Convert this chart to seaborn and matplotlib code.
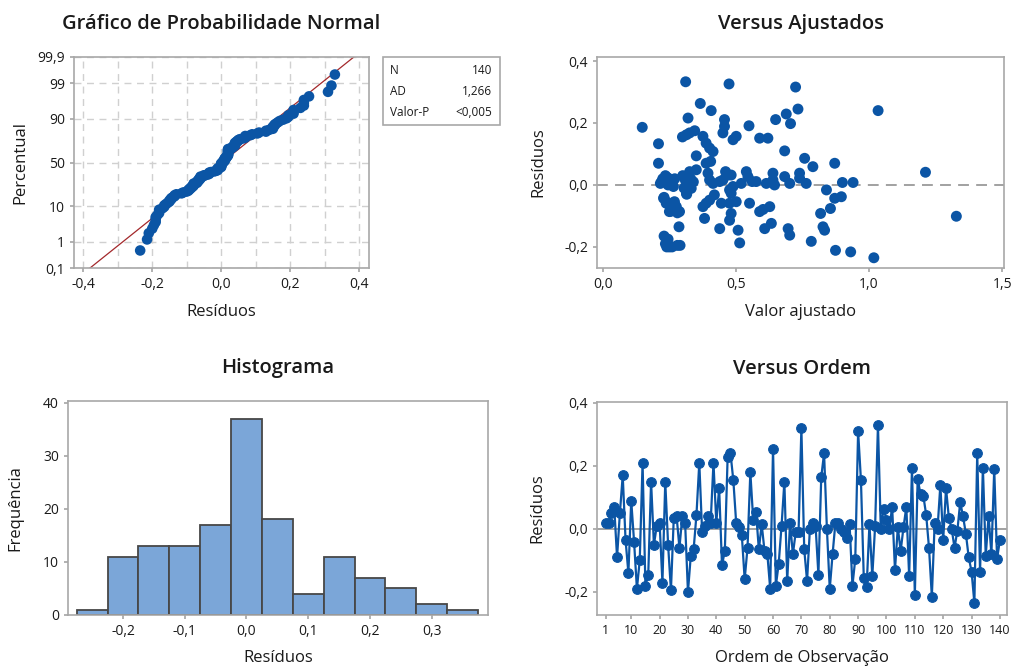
import numpy as np
import pandas as pd
import matplotlib
matplotlib.use("Agg")
import matplotlib.pyplot as plt
import seaborn as sns
from matplotlib.ticker import FuncFormatter, FixedLocator
from statistics import NormalDist

# residuals in observation order
residuals = [
    0.018, 0.02, 0.05, 0.07, -0.09, 0.05, 0.17, -0.035, -0.14, 0.09,
    -0.04, -0.19, -0.10, 0.21, -0.18, -0.145, 0.15, -0.05, 0.01, 0.02,
    -0.17, 0.15, -0.05, -0.195, 0.035, 0.04, -0.06, 0.04, 0.02, -0.20,
    -0.085, -0.065, 0.045, 0.21, -0.01, 0.01, 0.04, 0.02, 0.21, 0.02,
    0.13, -0.115, -0.07, 0.23, 0.24, 0.155, 0.02, 0.005, -0.02, -0.16,
    -0.06, 0.18, 0.03, 0.055, -0.065, 0.015, -0.07, -0.08, -0.19, 0.255,
    -0.18, -0.11, 0.01, 0.15, -0.165, 0.02, -0.08, -0.01, -0.01, 0.32,
    -0.065, -0.165, 0.0, 0.02, 0.01, -0.145, 0.165, 0.24, 0.0, -0.19,
    -0.08, 0.02, 0.02, 0.0, -0.01, -0.03, 0.015, -0.18, -0.095, 0.31,
    0.155, -0.155, -0.185, 0.015, -0.15, 0.01, 0.33, 0.0, 0.065, 0.03,
    0.0, 0.07, -0.13, 0.005, -0.07, 0.005, 0.07, -0.15, 0.195, -0.21,
    0.16, 0.11, 0.105, 0.045, -0.06, -0.215, 0.02, 0.0, 0.14, -0.035,
    0.13, 0.035, 0.0, -0.06, -0.005, 0.085, 0.04, -0.015, -0.09, -0.135,
    -0.235, 0.24, -0.135, 0.195, -0.085, 0.04, -0.08, 0.19, -0.095, -0.035,
]

# points of the "Versus Ajustados" panel (fitted value, residual)
fitted_x = [
    0.148, 0.209, 0.209, 0.216, 0.228, 0.225, 0.24, 0.25, 0.26, 0.27,
    0.245, 0.265, 0.23, 0.24, 0.265, 0.255, 0.28, 0.27, 0.238, 0.25,
    0.269, 0.276, 0.288, 0.286, 0.23, 0.235, 0.24, 0.25, 0.26, 0.28,
    0.29, 0.245, 0.311, 0.320, 0.299, 0.314, 0.326, 0.345, 0.326, 0.314,
    0.314, 0.332, 0.351, 0.351, 0.366, 0.376, 0.388, 0.401, 0.414, 0.407,
    0.388, 0.405, 0.395, 0.401, 0.414, 0.376, 0.388, 0.401, 0.382, 0.419,
    0.439, 0.451, 0.457, 0.457, 0.451, 0.474, 0.461, 0.470, 0.482, 0.476,
    0.482, 0.489, 0.476, 0.482, 0.476, 0.445, 0.439, 0.489, 0.501, 0.508,
    0.514, 0.501, 0.520, 0.539, 0.545, 0.549, 0.551, 0.561, 0.576, 0.589,
    0.620, 0.589, 0.602, 0.608, 0.614, 0.627, 0.633, 0.639, 0.639, 0.645,
    0.649, 0.689, 0.705, 0.683, 0.683, 0.702, 0.696, 0.702, 0.724, 0.733,
    0.739, 0.739, 0.758, 0.764, 0.789, 0.783, 0.818, 0.827, 0.833, 0.840,
    0.855, 0.871, 0.871, 0.896, 0.900, 0.940, 0.874, 0.931, 1.018, 1.034,
    1.212, 1.328, 0.30, 0.31, 0.305, 0.315, 0.33, 0.34, 0.22, 0.235,
]
fitted_resid = [
    0.186, 0.133, 0.070, 0.005, -0.043, 0.02, 0.025, 0.02, 0.01, 0.02,
    0.0, -0.005, -0.04, -0.055, -0.06, -0.085, -0.09, -0.065, -0.059, -0.086,
    -0.054, -0.07, -0.086, -0.135, -0.165, -0.19, -0.2, -0.2, -0.2, -0.195,
    -0.195, -0.175, 0.333, 0.216, 0.155, 0.162, 0.168, 0.175, 0.043, -0.005,
    -0.027, -0.011, 0.049, 0.094, 0.263, 0.157, 0.135, 0.119, 0.108, 0.240,
    0.07, 0.076, 0.038, 0.016, 0.005, -0.07, -0.059, -0.049, -0.108, -0.032,
    0.011, 0.016, 0.211, 0.189, 0.168, 0.326, 0.043, 0.032, 0.032, -0.016,
    -0.027, -0.005, -0.059, -0.092, -0.114, -0.059, -0.141, 0.146, 0.157, -0.146,
    -0.187, -0.054, 0.005, 0.043, 0.027, 0.191, -0.059, 0.011, 0.011, 0.151,
    0.151, -0.086, -0.079, -0.141, 0.005, -0.070, -0.124, 0.038, 0.016, 0.0,
    0.211, 0.229, 0.198, 0.110, 0.027, 0.005, -0.141, -0.162, 0.316, 0.245,
    0.038, 0.022, 0.086, 0.005, 0.059, -0.182, -0.092, -0.135, -0.146, -0.016,
    -0.076, 0.070, -0.043, -0.038, 0.008, 0.008, -0.211, -0.216, -0.235, 0.240,
    0.041, -0.101, 0.03, 0.015, -0.01, -0.03, 0.02, 0.01, 0.01, 0.03,
]

hist_edges = np.linspace(-0.275, 0.375, 14)
stats_labels = ["N", "AD", "Valor-P"]
stats_values = ["140", "1,266", "<0,005"]
prob_ticks = [0.1, 1, 10, 50, 90, 99, 99.9]
prob_ticklabels = ["0,1", "1", "10", "50", "90", "99", "99,9"]

blue = "#0B55A5"
frame = "#A8A8A8"
text_c = "#1A1A1A"

sns.set_theme(style="white")
plt.rcParams["font.family"] = ["Open Sans", "DejaVu Sans"]
plt.rcParams["axes.edgecolor"] = frame
plt.rcParams["axes.linewidth"] = 1.2
plt.rcParams["xtick.color"] = frame
plt.rcParams["ytick.color"] = frame
plt.rcParams["xtick.labelcolor"] = text_c
plt.rcParams["ytick.labelcolor"] = text_c
plt.rcParams["xtick.labelsize"] = 10
plt.rcParams["ytick.labelsize"] = 10
plt.rcParams["xtick.major.size"] = 3
plt.rcParams["ytick.major.size"] = 3
plt.rcParams["xtick.bottom"] = True
plt.rcParams["ytick.left"] = True

W, H = 1012, 669
fig = plt.figure(figsize=(W / 100, H / 100), dpi=100)


def box(l, r, t, b):
    return fig.add_axes([l / W, (H - b) / H, (r - l) / W, (b - t) / H])


def comma(fmt):
    def f(v, p):
        s = format(v, fmt).replace(".", ",")
        return s.replace("-0,0", "0,0") if s.strip("-0,") == "" else s
    return FuncFormatter(f)


def labels(ax, title, xl, yl, xpos, ypos):
    ax.set_title(title, fontsize=14.5, fontweight="semibold", color=text_c, pad=20)
    ax.set_xlabel(xl, fontsize=12, color=text_c)
    ax.set_ylabel(yl, fontsize=12, color=text_c)
    ax.xaxis.set_label_coords(0.5, xpos)
    ax.yaxis.set_label_coords(ypos, 0.5)
    ax.xaxis.label.set_va("center")
    ax.yaxis.label.set_va("center")


res = np.array(residuals)
n = len(res)
nd = NormalDist()

# normal probability plot
ax1 = box(74, 369, 57, 268)
srt = np.sort(res)
z = np.array([nd.inv_cdf((i - 0.3) / (n + 0.4)) for i in range(1, n + 1)])
mu, sd = res.mean(), res.std(ddof=1)
zline = np.array([-3.3, 3.3])
ax1.plot(mu + sd * zline, zline, color="#A3282B", lw=0.9, zorder=2)
sns.scatterplot(x=srt, y=z, ax=ax1, color=blue, s=58, edgecolor="none", zorder=3)
zt = [nd.inv_cdf(p / 100) for p in prob_ticks]
ax1.set_yticks(zt)
ax1.set_yticklabels(prob_ticklabels)
ax1.set_ylim(zt[0], zt[-1])
ax1.set_xlim(-0.427, 0.429)
ax1.xaxis.set_major_locator(FixedLocator([-0.4, -0.2, 0.0, 0.2, 0.4]))
ax1.xaxis.set_minor_locator(FixedLocator(np.arange(-0.4, 0.41, 0.1)))
ax1.xaxis.set_major_formatter(comma(".1f"))
ax1.grid(True, which="both", axis="x", ls=(0, (5, 4)), color="#D0D0D0", lw=1)
ax1.grid(True, axis="y", ls=(0, (5, 4)), color="#D0D0D0", lw=1)
ax1.tick_params(axis="x", which="minor", length=0)
labels(ax1, "Gráfico de Probabilidade Normal", "Resíduos", "Percentual", -0.21, -0.183)

# stats box
fig.patches.append(plt.Rectangle((383 / W, (H - 125) / H), 117 / W, 68 / H,
                                 transform=fig.transFigure, fill=False,
                                 edgecolor=frame, lw=1.2))
for i, (lab, val) in enumerate(zip(stats_labels, stats_values)):
    yy = (H - (71 + i * 20.5)) / H
    fig.text(390 / W, yy, lab, fontsize=8.5, color=text_c, va="center")
    fig.text(492 / W, yy, val, fontsize=8.5, color=text_c, va="center", ha="right")

# versus fitted
ax2 = box(597, 1004, 57, 268)
ax2.axhline(0, color="#9A9A9A", ls=(0, (6, 4)), lw=1.3, zorder=1)
sns.scatterplot(x=fitted_x, y=fitted_resid, ax=ax2, color=blue, s=62,
                edgecolor="none", zorder=3)
ax2.set_xlim(-0.022, 1.507)
ax2.set_ylim(-0.268, 0.413)
ax2.set_xticks([0.0, 0.5, 1.0, 1.5])
ax2.set_yticks([-0.2, 0.0, 0.2, 0.4])
ax2.xaxis.set_major_formatter(comma(".1f"))
ax2.yaxis.set_major_formatter(comma(".1f"))
labels(ax2, "Versus Ajustados", "Valor ajustado", "Resíduos", -0.21, -0.145)

# histogram
ax3 = box(68, 488, 401, 615)
sns.histplot(x=res, bins=hist_edges, ax=ax3, color="#7BA6D8", alpha=1,
             edgecolor="#474747", linewidth=1.3)
ax3.set_xlim(-0.289, 0.391)
ax3.set_ylim(0, 40.3)
ax3.set_xticks([-0.2, -0.1, 0.0, 0.1, 0.2, 0.3])
ax3.set_yticks([0, 10, 20, 30, 40])
ax3.xaxis.set_major_formatter(comma(".1f"))
labels(ax3, "Histograma", "Resíduos", "Frequência", -0.2, -0.125)

# versus order
ax4 = box(597, 1007, 402, 615)
ax4.axhline(0, color="#9A9A9A", lw=1.3, zorder=1)
order = np.arange(1, n + 1)
sns.lineplot(x=order, y=res, ax=ax4, color=blue, lw=1.6, marker="o",
             markersize=7, markeredgecolor=blue, zorder=3)
ax4.set_xlim(-2.07, 142.5)
ax4.set_ylim(-0.273, 0.403)
ax4.set_xticks([1] + list(range(10, 141, 10)))
ax4.set_yticks([-0.2, 0.0, 0.2, 0.4])
ax4.yaxis.set_major_formatter(comma(".1f"))
ax4.tick_params(axis="x", labelsize=9)
labels(ax4, "Versus Ordem", "Ordem de Observação", "Resíduos", -0.2, -0.145)

for ax in (ax1, ax2, ax3, ax4):
    for s in ax.spines.values():
        s.set_visible(True)
        s.set_color(frame)

fig.savefig("out.png", dpi=100)
